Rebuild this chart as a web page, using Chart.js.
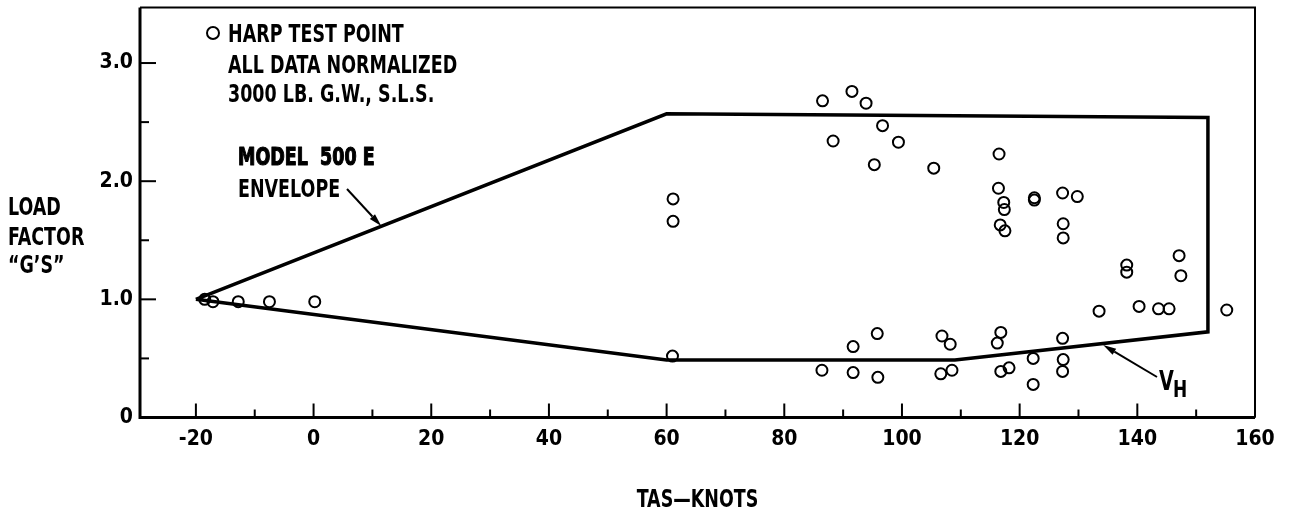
<!DOCTYPE html>
<html>
<head>
<meta charset="utf-8">
<script src="https://cdn.jsdelivr.net/npm/chart.js@4/dist/chart.umd.min.js"></script>
<style>
  html, body { margin: 0; padding: 0; background: #ffffff; }
  #wrap { width: 1289px; height: 520px; position: relative; }
</style>
</head>
<body>
<div id="wrap"><canvas id="c" width="1289" height="520"></canvas></div>
<script>
// ---- data ----
const xTickValues = [-20, -10, 0, 10, 20, 30, 40, 50, 60, 70, 80, 90, 100, 110, 120, 130, 140, 150, 160];
const yTickValues = [0, 0.5, 1.0, 1.5, 2.0, 2.5, 3.0];

const harpX = [-18.5, -17.1, -12.8, -7.5, 0.2,
  61.1, 61.1, 61.0,
  86.5, 91.5, 93.9, 96.7, 88.3, 99.4, 95.3, 105.4,
  86.4, 91.7, 91.7, 95.8, 95.9,
  116.5, 116.4, 117.3, 117.4, 122.5, 122.5, 127.3, 129.8, 116.7, 117.5, 127.4, 127.4,
  138.2, 138.2, 147.1, 147.4,
  133.5, 140.3, 143.6, 145.4, 155.2,
  106.8, 108.2, 106.6, 108.5, 116.8, 116.2, 116.8, 118.2, 122.3, 122.3, 127.3, 127.4, 127.3];
const harpY = [1.00, 0.98, 0.98, 0.98, 0.98,
  1.85, 1.66, 0.52,
  2.68, 2.76, 2.66, 2.47, 2.34, 2.33, 2.14, 2.11,
  0.40, 0.60, 0.38, 0.71, 0.34,
  2.23, 1.94, 1.82, 1.76, 1.86, 1.84, 1.90, 1.87, 1.63, 1.58, 1.64, 1.52,
  1.29, 1.23, 1.37, 1.20,
  0.90, 0.94, 0.92, 0.92, 0.91,
  0.69, 0.62, 0.37, 0.40, 0.72, 0.63, 0.39, 0.42, 0.50, 0.28, 0.67, 0.49, 0.39];

const envelopeX = [-20, 60, 152, 152, 109, 60, -20];
const envelopeY = [1.00, 2.57, 2.54, 0.725, 0.486, 0.486, 1.00];

const legendLines = ['HARP TEST POINT', 'ALL DATA NORMALIZED', '3000 LB. G.W., S.L.S.'];
const envelopeLabel = ['MODEL  500 E', 'ENVELOPE'];
const yTitleLines = ['LOAD', 'FACTOR', '\u201CG\u2019S\u201D'];
const xTitle = 'TAS\u2014KNOTS';

// ---- chart ----
const FONT = '"Liberation Sans Narrow", "DejaVu Sans Condensed", "Arial Narrow", sans-serif';
const SX = 0.81; // horizontal squeeze to mimic the narrow typeface

function squeezedText(ctx, text, x, y, font, sx, align, heavy) {
  ctx.save();
  ctx.font = font;
  ctx.translate(x, y);
  ctx.scale(sx, 1);
  ctx.textAlign = align || 'left';
  ctx.fillText(text, 0, 0);
  if (heavy) {
    ctx.lineWidth = heavy;
    ctx.lineJoin = 'round';
    ctx.strokeText(text, 0, 0);
  }
  ctx.restore();
}

function arrow(ctx, x1, y1, x2, y2) {
  const ang = Math.atan2(y2 - y1, x2 - x1);
  const hl = 13, hw = 3.5;
  const bx = x2 - Math.cos(ang) * hl, by = y2 - Math.sin(ang) * hl;
  ctx.beginPath();
  ctx.moveTo(x1, y1);
  ctx.lineTo(bx, by);
  ctx.lineWidth = 2;
  ctx.stroke();
  ctx.beginPath();
  ctx.moveTo(x2, y2);
  ctx.lineTo(bx + Math.sin(ang) * hw, by - Math.cos(ang) * hw);
  ctx.lineTo(bx - Math.sin(ang) * hw, by + Math.cos(ang) * hw);
  ctx.closePath();
  ctx.fill();
}

const decor = {
  id: 'decor',
  beforeDatasetsDraw(chart) {
    const ctx = chart.ctx, ca = chart.chartArea;
    const xs = chart.scales.x, ys = chart.scales.y;
    ctx.save();
    ctx.strokeStyle = '#000';
    ctx.lineCap = 'butt';
    // frame
    ctx.lineWidth = 2;
    ctx.beginPath();
    ctx.moveTo(ca.left, ca.top); ctx.lineTo(ca.right, ca.top); ctx.lineTo(ca.right, ca.bottom);
    ctx.stroke();
    ctx.lineWidth = 3;
    ctx.beginPath();
    ctx.moveTo(ca.left, ca.top); ctx.lineTo(ca.left, ca.bottom); ctx.lineTo(ca.right, ca.bottom);
    ctx.stroke();
    // inward ticks
    ctx.lineWidth = 2;
    xTickValues.forEach(v => {
      const px = xs.getPixelForValue(v);
      const len = (v % 20 === 0) ? 14 : 8;
      ctx.beginPath(); ctx.moveTo(px, ca.bottom); ctx.lineTo(px, ca.bottom - len); ctx.stroke();
    });
    yTickValues.forEach(v => {
      if (v === 0) return;
      const py = ys.getPixelForValue(v);
      const len = Number.isInteger(v) ? 16 : 9;
      ctx.beginPath(); ctx.moveTo(ca.left, py); ctx.lineTo(ca.left + len, py); ctx.stroke();
    });
    ctx.restore();
  },
  afterDraw(chart) {
    const ctx = chart.ctx, ca = chart.chartArea;
    const xs = chart.scales.x, ys = chart.scales.y;
    ctx.save();
    ctx.fillStyle = '#000';
    ctx.strokeStyle = '#000';
    ctx.textBaseline = 'alphabetic';
    const F24 = 'bold 24px ' + FONT;
    // y title (horizontal, stacked)
    const yTitleBase = [215, 245, 273];
    yTitleLines.forEach((t, i) => squeezedText(ctx, t, 8, yTitleBase[i], F24, SX));
    // x title
    squeezedText(ctx, xTitle, (ca.left + ca.right) / 2, 507, F24, SX, 'center');
    // legend
    ctx.lineWidth = 2;
    ctx.beginPath(); ctx.arc(213, 33, 6, 0, Math.PI * 2); ctx.stroke();
    const legBase = [42, 73, 102];
    legendLines.forEach((t, i) => squeezedText(ctx, t, 228, legBase[i], F24, SX));
    // envelope label
    squeezedText(ctx, envelopeLabel[0], 238, 165, F24, SX, 'left', 1.1);
    squeezedText(ctx, envelopeLabel[1], 238, 197, F24, SX);
    const t1x = xs.getPixelForValue(11.5), t1y = ys.getPixelForValue(1.62);
    arrow(ctx, 347, 189, t1x, t1y);
    // V_H label
    const t2x = xs.getPixelForValue(134.2), t2y = ys.getPixelForValue(0.613);
    arrow(ctx, 1157, 377, t2x, t2y);
    squeezedText(ctx, 'V', 1159, 390, 'bold 26px ' + FONT, 0.82);
    squeezedText(ctx, 'H', 1173, 397, 'bold 23px ' + FONT, 0.82);
    ctx.restore();
  }
};

new Chart(document.getElementById('c'), {
  type: 'scatter',
  data: {
    datasets: [
      {
        label: 'HARP TEST POINT',
        data: harpX.map((x, i) => ({ x: x, y: harpY[i] })),
        pointStyle: 'circle',
        pointRadius: 5.5,
        pointBorderWidth: 2,
        pointBorderColor: '#000',
        pointBackgroundColor: 'rgba(0,0,0,0)',
        showLine: false
      },
      {
        label: 'MODEL 500 E ENVELOPE',
        data: envelopeX.map((x, i) => ({ x: x, y: envelopeY[i] })),
        showLine: true,
        borderColor: '#000',
        borderWidth: 3.5,
        pointRadius: 0,
        tension: 0,
        fill: false,
        borderJoinStyle: 'miter'
      }
    ]
  },
  options: {
    responsive: false,
    animation: false,
    events: [],
    layout: { padding: { left: 0, right: 34, top: 7, bottom: 0 } },
    plugins: { legend: { display: false }, tooltip: { enabled: false } },
    scales: {
      x: {
        type: 'linear',
        min: -29.5,
        max: 160,
        afterFit(scale) { scale.height = 102.5; scale.paddingLeft = 0; scale.paddingRight = 0; },
        afterBuildTicks(scale) { scale.ticks = xTickValues.map(v => ({ value: v })); },
        grid: { display: false, drawTicks: false },
        border: { display: false },
        ticks: {
          autoSkip: false,
          maxRotation: 0,
          padding: 9,
          color: '#000',
          font: { family: FONT, size: 21, weight: 'bold' },
          callback: (v) => (v % 20 === 0 ? String(v) : '')
        }
      },
      y: {
        type: 'linear',
        min: 0,
        max: 3.47,
        afterFit(scale) { scale.width = 140; scale.paddingTop = 0; scale.paddingBottom = 0; },
        afterBuildTicks(scale) { scale.ticks = yTickValues.map(v => ({ value: v })); },
        grid: { display: false, drawTicks: false },
        border: { display: false },
        ticks: {
          autoSkip: false,
          padding: 7,
          color: '#000',
          font: { family: FONT, size: 21, weight: 'bold' },
          callback: (v) => (v === 0 ? '0' : (Number.isInteger(v) ? v.toFixed(1) : ''))
        }
      }
    }
  },
  plugins: [decor]
});
</script>
</body>
</html>
